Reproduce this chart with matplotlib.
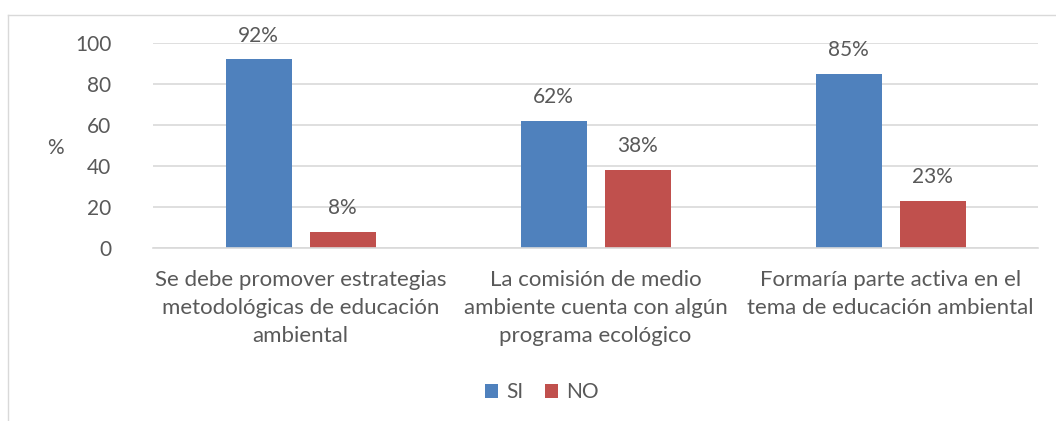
import matplotlib
matplotlib.use("Agg")
import matplotlib.pyplot as plt
import numpy as np

categories = ["Se debe promover estrategias\nmetodológicas de educación\nambiental",
              "La comisión de medio\nambiente cuenta con algún\nprograma ecológico",
              "Formaría parte activa en el\ntema de educación ambiental"]
si_values = [92, 62, 85]
no_values = [8, 38, 23]
series_names = ["SI", "NO"]
yticks = [0, 20, 40, 60, 80, 100]

plt.rcParams['font.family'] = ['Lato', 'DejaVu Sans']
txt = '#595959'
W, H = 1056, 421
fig = plt.figure(figsize=(W/100, H/100), dpi=100)
# frame lines (partial border)
fig.add_artist(plt.Line2D([8/W, 8/W], [0, 1-15/H], color='#d9d9d9', lw=1))
fig.add_artist(plt.Line2D([8/W, 1], [1-15/H, 1-15/H], color='#d9d9d9', lw=1))

x0, x1 = 153, 1038
ytop, ybot = 43, 248
ax = fig.add_axes([x0/W, 1-ybot/H, (x1-x0)/W, (ybot-ytop)/H])
x = np.arange(3)
bw = 66/295
gap = 18/295
b1 = ax.bar(x - (bw+gap)/2, si_values, bw, color='#4f81bd', label=series_names[0])
b2 = ax.bar(x + (bw+gap)/2, no_values, bw, color='#c0504d', label=series_names[1])
for bars, vals in ((b1, si_values), (b2, no_values)):
    for r, v in zip(bars, vals):
        ax.annotate(f"{v}%", (r.get_x()+r.get_width()/2, v), xytext=(0, 10),
                    textcoords='offset points', ha='center', va='bottom', fontsize=15, color=txt)
ax.set_xlim(-0.5, 2.5)
ax.set_ylim(0, 100)
ax.set_yticks(yticks)
ax.yaxis.grid(True, color='#d9d9d9', lw=1.2)
ax.set_axisbelow(True)
for s in ['top', 'right', 'left']:
    ax.spines[s].set_visible(False)
ax.spines['bottom'].set_color('#d9d9d9')
ax.spines['bottom'].set_linewidth(1.2)
ax.tick_params(axis='both', length=0, labelsize=15, colors=txt)
ax.tick_params(axis='y', pad=30)
ax.set_xticks(x)
ax.set_xticklabels(categories, fontsize=16, color=txt, linespacing=1.5)
ax.tick_params(axis='x', pad=16)
fig.text(55/W, 1-148/H, "%", fontsize=15, color=txt, ha='center', va='center')
leg = fig.legend(handles=[b1, b2], loc='center', bbox_to_anchor=(542/W, 1-392/H), ncol=2,
                 frameon=False, fontsize=15, handlelength=0.65, handleheight=0.65,
                 columnspacing=1.0, handletextpad=0.4, labelcolor=txt)
fig.savefig("out.png", dpi=100)
